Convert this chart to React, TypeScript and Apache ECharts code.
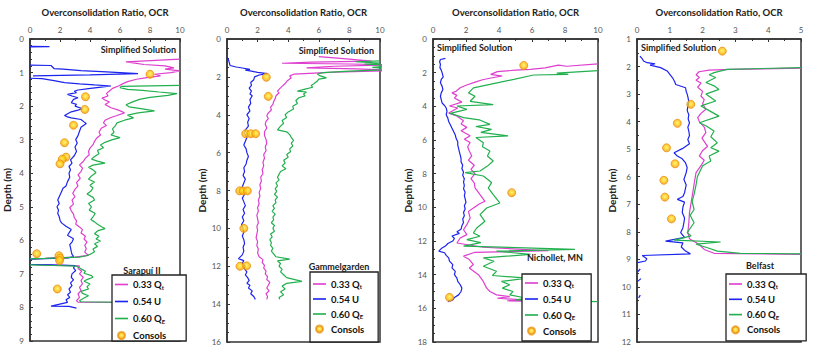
import React, { useEffect, useRef } from "react";
import * as echarts from "echarts";

// ---------- DATA: [OCR, depth (m)] ----------
const sarapuiU: any[] = [[0,0.22],[1.3,0.23],[0,0.245],'-',[0,0.78],[1.4,0.79],[1.6,0.88],[2.2,0.9],[3.4,0.94],[5.1,0.98],[7.2,1.03],[4.0,1.07],[0.2,1.1],'-',[0,1.17],[0.8,1.18],[1.6,1.24],[2.3,1.3],[3.3,1.34],[4.3,1.37],[5.4,1.4],[4.6,1.44],[3.9,1.48],[3.2,1.52],[2.95,1.56],[3.1,1.6],[2.5,1.65],[2.8,1.7],[3.2,1.75],[2.9,1.8],[2.75,1.9],[3.1,1.95],[3.0,2.0],[3.5,2.08],[3.2,2.12],[2.75,2.17],[2.3,2.28],[2.5,2.32],[2.75,2.35],[3.4,2.4],[3.6,2.47],[3.75,2.52],[3.4,2.63],[3.3,2.75],[3.2,2.88],[3.05,3.0],[3.15,3.1],[3.0,3.22],[3.1,3.35],[2.95,3.48],[2.7,3.6],[2.8,3.7],[2.6,3.8],[2.7,3.9],[2.6,4.0],[2.65,4.12],[2.5,4.25],[2.4,4.38],[2.2,4.45],[2.1,4.55],[2.0,4.65],[1.85,4.8],[1.95,4.9],[1.8,5.0],[1.9,5.1],[1.85,5.2],[1.95,5.3],[2.0,5.4],[2.1,5.48],[2.4,5.58],[2.75,5.68],[2.6,5.78],[2.5,5.85],[2.9,5.95],[2.8,6.05],[2.65,6.13],[2.7,6.22],[2.75,6.33],[2.8,6.42],[2.9,6.48],[2.6,6.52],[0.5,6.55],[0,6.56],'-',[0,6.72],[1.5,6.73],[3.0,6.75],[2.9,6.82],[3.05,6.9],[2.8,7.0],[2.75,7.1],[2.9,7.18],[2.7,7.27],[2.8,7.35],[2.6,7.45],[2.7,7.55],[2.5,7.62],[2.65,7.7],[2.4,7.77],[2.5,7.85],[1.4,7.96],[2.6,7.97],[3.1,8.02]];
const sarapuiQt: any[] = [[10,0.6],[6.4,0.68],[7.0,0.72],[7.6,0.76],[9.0,0.8],[9.6,0.86],[9.0,0.9],[10,0.95],[9.4,1.0],[8.3,1.05],[8.7,1.1],[7.8,1.15],[7.1,1.2],[6.5,1.27],[6.2,1.33],[5.9,1.4],[5.5,1.47],[5.3,1.55],[5.1,1.62],[5.2,1.7],[4.8,1.76],[5.0,1.82],[5.3,1.88],[5.0,1.95],[5.4,2.05],[5.9,2.12],[6.3,2.2],[5.8,2.28],[5.4,2.34],[5.0,2.42],[4.9,2.5],[5.1,2.58],[4.75,2.66],[4.6,2.78],[4.7,2.86],[4.45,2.95],[4.3,3.05],[4.2,3.15],[4.0,3.25],[3.9,3.35],[3.95,3.45],[3.7,3.55],[3.55,3.65],[3.3,3.75],[3.5,3.85],[3.4,3.95],[3.2,4.05],[3.35,4.15],[3.1,4.28],[3.2,4.38],[3.0,4.48],[2.85,4.6],[3.0,4.7],[2.8,4.8],[2.9,4.92],[2.65,5.02],[2.75,5.12],[2.9,5.22],[2.95,5.32],[3.1,5.42],[3.05,5.52],[3.3,5.6],[3.5,5.68],[3.4,5.78],[3.7,5.88],[3.6,5.96],[3.8,6.05],[3.65,6.15],[3.75,6.25],[3.65,6.35],[3.9,6.45],[3.0,6.5],[1.0,6.54],[0,6.55],'-',[0,6.72],[1.5,6.74],[3.3,6.76],[3.2,6.84],[3.45,6.92],[3.3,7.0],[3.55,7.1],[3.4,7.2],[3.5,7.3],[3.3,7.4],[3.4,7.5],[3.2,7.6],[3.3,7.7],[3.1,7.8],[3.2,7.84],[10,7.86]];
const sarapuiQE: any[] = [[10,1.38],[6.1,1.41],[6.0,1.45],[6.5,1.5],[7.5,1.53],[8.6,1.58],[9.8,1.63],[9.2,1.68],[8.0,1.74],[7.3,1.8],[6.8,1.88],[6.4,1.96],[6.6,2.02],[7.5,2.08],[8.3,2.14],[7.2,2.2],[6.5,2.27],[6.9,2.35],[6.3,2.42],[5.8,2.5],[5.7,2.58],[5.5,2.68],[5.6,2.78],[5.4,2.86],[6.0,2.94],[5.5,3.0],[5.0,3.08],[4.7,3.16],[4.9,3.24],[4.5,3.32],[4.6,3.42],[4.3,3.5],[4.1,3.58],[4.5,3.64],[5.0,3.7],[4.2,3.76],[3.9,3.82],[4.2,3.9],[4.4,3.98],[4.1,4.08],[3.9,4.18],[4.3,4.26],[4.0,4.36],[4.2,4.44],[4.05,4.54],[3.8,4.62],[4.2,4.72],[4.3,4.8],[3.9,4.9],[4.1,5.0],[3.95,5.1],[4.35,5.2],[4.2,5.3],[4.05,5.38],[4.3,5.45],[4.5,5.52],[4.8,5.6],[5.0,5.65],[4.5,5.72],[4.3,5.8],[4.6,5.88],[4.4,5.96],[4.7,6.02],[4.3,6.1],[4.5,6.18],[4.2,6.26],[4.3,6.34],[4.0,6.42],[3.75,6.46],[3.3,6.5],[1.0,6.54],[0,6.55],'-',[0,6.73],[1.5,6.75],[3.1,6.77],[3.4,6.85],[3.7,6.92],[3.6,6.98],[4.1,7.05],[4.2,7.1],[3.8,7.17],[3.6,7.22],[4.0,7.3],[3.8,7.38],[3.9,7.45],[3.4,7.52],[3.5,7.58],[3.9,7.65],[3.6,7.72],[3.3,7.8],[3.4,7.83],[10,7.87]];
const sarapuiConsols = [[8.0,1.05],[3.7,1.72],[3.65,2.1],[2.9,2.57],[2.3,3.09],[2.4,3.52],[2.15,3.58],[2.0,3.72],[0.45,6.4],[1.93,6.46],[2.0,6.53],[1.97,6.6],[1.82,7.45]];

const gammelU = [[0,0.95],[0.1,1.1],[0.15,1.25],[0.2,1.4],[0.6,1.48],[1.0,1.53],[1.5,1.6],[1.2,1.64],[1.6,1.7],[2.0,1.76],[2.65,1.83],[2.1,1.9],[1.8,2.0],[1.75,2.15],[1.55,2.3],[1.6,2.45],[1.45,2.6],[1.6,2.75],[1.5,2.9],[1.65,3.0],[1.5,3.2],[1.55,3.4],[1.4,3.6],[1.5,3.8],[1.3,4.0],[1.45,4.2],[1.35,4.4],[1.4,4.6],[1.2,4.8],[1.15,5.0],[1.3,5.2],[1.2,5.4],[1.1,5.6],[1.25,5.8],[1.3,6.0],[1.4,6.2],[1.3,6.4],[1.25,6.6],[1.1,6.8],[1.15,7.0],[1.05,7.2],[1.2,7.4],[1.1,7.6],[1.0,7.8],[1.1,8.0],[1.15,8.2],[1.0,8.4],[1.1,8.6],[1.2,8.8],[1.05,9.0],[1.15,9.2],[1.0,9.4],[1.1,9.6],[0.95,9.8],[1.05,10.0],[1.1,10.2],[1.0,10.4],[1.1,10.6],[1.15,10.8],[1.05,11.0],[1.1,11.2],[1.0,11.4],[0.75,11.6],[1.1,11.7],[1.0,11.85],[1.2,12.0],[1.1,12.1],[1.3,12.3],[1.2,12.45],[1.35,12.6],[1.45,12.75],[1.3,12.9],[1.5,13.0],[1.4,13.15],[1.65,13.3],[1.55,13.45],[1.75,13.6],[1.85,13.75]];
const gammelQt = [[6.0,0.93],[7.8,1.05],[9.45,1.17],[5.5,1.22],[3.6,1.28],[8,1.32],[11,1.36],[7,1.44],[5.2,1.52],[8.5,1.58],[11,1.66],[7,1.75],[4.4,1.85],[4.1,1.95],[4.2,2.05],[3.95,2.2],[3.8,2.35],[3.6,2.5],[3.45,2.62],[3.3,2.75],[3.4,2.85],[3.2,3.0],[3.15,3.15],[3.05,3.3],[3.0,3.45],[2.85,3.6],[2.9,3.75],[2.7,3.9],[2.6,4.05],[2.7,4.2],[2.55,4.35],[2.5,4.5],[2.6,4.7],[2.45,4.9],[2.45,5.1],[2.55,5.3],[2.6,5.5],[2.5,5.7],[2.55,5.9],[2.4,6.1],[2.45,6.3],[2.35,6.5],[2.4,6.7],[2.3,6.9],[2.35,7.1],[2.2,7.3],[2.25,7.5],[2.15,7.7],[2.2,7.9],[2.1,8.1],[2.15,8.3],[2.05,8.5],[2.1,8.7],[2.0,8.9],[2.05,9.1],[1.95,9.3],[2.0,9.5],[2.05,9.7],[1.95,9.9],[2.0,10.1],[1.95,10.3],[1.9,10.5],[2.0,10.7],[1.95,10.9],[2.05,11.1],[2.0,11.3],[2.1,11.5],[2.35,11.65],[2.3,11.8],[2.45,11.95],[2.4,12.1],[2.55,12.25],[2.5,12.4],[2.65,12.55],[2.6,12.7],[2.8,12.85],[2.7,13.0],[2.6,13.15],[2.75,13.3],[2.55,13.45],[2.65,13.6],[2.6,13.75]];
const gammelQE = [[10,1.15],[8.4,1.2],[10,1.27],[9.0,1.33],[11,1.4],[9.5,1.5],[11,1.6],[8.0,1.7],[6.3,1.78],[5.9,1.85],[6.1,1.95],[6.5,2.05],[6.0,2.12],[5.9,2.22],[5.7,2.35],[5.5,2.45],[5.6,2.55],[5.1,2.65],[4.6,2.75],[5.2,2.8],[5.0,2.9],[5.1,3.0],[4.7,3.1],[4.5,3.25],[4.6,3.4],[4.3,3.55],[4.35,3.7],[4.0,3.85],[3.8,4.0],[3.9,4.15],[3.6,4.3],[3.7,4.45],[3.5,4.6],[3.3,4.8],[3.9,4.9],[4.1,5.05],[4.2,5.2],[4.35,5.35],[4.2,5.5],[4.3,5.65],[4.1,5.8],[4.15,5.95],[3.9,6.1],[4.0,6.25],[3.7,6.4],[3.8,6.55],[3.6,6.7],[3.85,6.85],[3.5,7.0],[3.4,7.15],[3.3,7.3],[3.4,7.45],[3.2,7.6],[3.3,7.75],[3.15,7.9],[3.25,8.05],[3.1,8.2],[3.3,8.35],[3.15,8.5],[3.2,8.65],[3.0,8.8],[3.1,8.95],[2.95,9.1],[3.15,9.25],[3.0,9.4],[3.05,9.55],[2.9,9.7],[3.1,9.85],[3.0,10.0],[3.1,10.15],[2.85,10.3],[2.95,10.45],[2.8,10.6],[2.9,10.75],[2.85,10.9],[3.0,11.05],[2.9,11.2],[3.05,11.35],[3.2,11.5],[4.1,11.62],[3.3,11.72],[3.5,11.85],[3.4,12.0],[3.6,12.15],[3.5,12.3],[3.7,12.45],[3.9,12.6],[4.9,12.8],[3.9,12.9],[3.6,13.05],[3.8,13.2],[3.5,13.35],[3.7,13.5],[3.4,13.65],[3.45,13.75]];
const gammelConsols = [[2.57,2.02],[2.7,3.03],[1.22,5.0],[1.55,5.0],[1.87,5.0],[0.83,8.02],[1.05,8.02],[1.33,8.02],[1.1,10.0],[0.85,12.0],[1.28,11.98]];

const nichU = [[0.75,1.15],[0.45,1.22],[0.4,1.35],[0.45,1.5],[0.42,1.7],[0.5,1.85],[0.55,2.0],[0.62,2.25],[0.5,2.4],[0.45,2.6],[0.55,2.8],[0.6,3.0],[0.5,3.2],[0.45,3.4],[0.5,3.6],[0.55,3.8],[0.7,3.95],[0.8,4.1],[0.85,4.3],[0.8,4.5],[0.9,4.7],[0.95,4.9],[1.05,5.1],[1.15,5.3],[1.25,5.5],[1.35,5.7],[1.4,5.9],[1.5,6.1],[1.5,6.3],[1.55,6.5],[1.6,6.7],[1.65,6.9],[1.7,7.1],[1.7,7.3],[1.8,7.5],[1.75,7.7],[1.85,7.9],[1.8,8.1],[1.9,8.3],[1.85,8.5],[1.9,8.7],[1.85,8.9],[1.95,9.1],[1.9,9.3],[1.95,9.5],[2.0,9.7],[1.9,9.9],[1.95,10.1],[1.85,10.3],[1.9,10.5],[1.8,10.7],[1.85,10.9],[1.75,11.1],[1.7,11.3],[1.45,11.45],[1.6,11.55],[1.15,11.7],[1.3,11.85],[1.2,12.0],[0.9,12.15],[0.75,12.3],[0.5,12.45],[0.35,12.6],[0.7,12.7],[0.8,12.85],[0.95,13.0],[1.0,13.2],[1.2,13.4],[1.15,13.6],[1.35,13.8],[1.3,14.0],[1.45,14.2],[1.5,14.4],[1.65,14.6],[1.75,14.8],[1.7,15.0],[1.55,15.2],[1.3,15.35],[1.2,15.5],[0.9,15.6]];
const nichQt = [[10,1.48],[8.1,1.62],[7.6,1.55],[6.8,1.72],[5.9,1.8],[5.0,1.85],[3.9,1.94],[3.5,2.1],[4.2,2.2],[3.6,2.3],[3.0,2.42],[2.6,2.55],[2.0,2.75],[1.65,2.9],[1.4,3.1],[1.15,3.2],[1.45,3.35],[1.3,3.5],[1.75,3.75],[1.0,3.98],[1.5,4.1],[0.95,4.4],[1.4,4.55],[1.85,4.85],[1.7,5.05],[2.05,5.25],[1.7,5.45],[2.25,5.75],[1.9,5.95],[2.25,6.15],[2.1,6.4],[2.2,6.65],[2.35,6.95],[2.15,7.2],[2.5,7.5],[2.3,7.74],[2.55,8.0],[2.3,8.3],[2.5,8.55],[2.55,8.85],[2.85,9.25],[3.15,9.64],[2.8,9.8],[2.45,10.04],[2.15,10.24],[2.25,10.63],[2.05,11.03],[1.85,11.33],[2.05,11.62],[1.65,11.82],[1.45,12.12],[3.05,12.37],[7.0,12.58],[2.5,12.68],[1.85,12.9],[2.2,13.1],[2.45,13.4],[2.2,13.6],[2.75,14.0],[3.05,14.4],[3.25,14.8],[3.45,15.0],[3.85,15.2],[4.65,15.3],[3.9,15.4],[5.5,15.5],[4.5,15.55],[5.5,15.58]];
const nichQE = [[10,1.88],[7.5,2.03],[8.2,2.1],[6.1,2.14],[4.9,2.4],[3.45,2.7],[2.45,2.9],[2.15,3.2],[2.55,3.4],[2.25,3.7],[3.65,3.9],[1.45,3.98],[2.05,4.18],[1.05,4.42],[1.85,4.67],[2.8,4.8],[3.45,5.07],[2.6,5.2],[3.55,5.37],[2.9,5.55],[4.55,5.76],[2.6,5.85],[3.05,6.16],[3.0,6.4],[3.45,6.65],[3.3,6.95],[3.65,7.25],[3.3,7.55],[2.85,7.84],[1.95,7.94],[3.05,8.14],[3.55,8.53],[3.35,8.85],[3.65,9.25],[4.05,9.74],[3.25,10.04],[2.85,10.43],[3.15,10.83],[2.65,11.23],[2.45,11.52],[2.85,11.72],[2.05,11.92],[2.9,12.1],[1.85,12.3],[8.6,12.5],[3.85,12.6],[5.9,12.8],[3.05,13.0],[3.7,13.2],[3.05,13.5],[3.85,13.8],[3.6,14.05],[5.7,14.2],[4.15,14.4],[4.65,14.6],[4.2,14.8],[4.85,15.0],[4.65,15.2],[5.7,15.4],[5.0,15.5],[10,15.6]];
const nichConsols = [[5.5,1.57],[4.77,9.13],[1.0,15.35]];

const belfastU: any[] = [[0.09,1.62],[0.15,1.7],[0.2,1.8],[0.31,1.86],[0.55,1.9],[0.4,1.95],[0.72,2.04],[0.92,2.16],[1.0,2.28],[1.08,2.4],[1.15,2.55],[1.18,2.65],[1.48,2.77],[1.5,2.9],[1.53,3.0],[1.56,3.15],[1.58,3.3],[1.55,3.45],[1.53,3.6],[1.58,3.75],[1.56,3.9],[1.6,4.05],[1.55,4.2],[1.58,4.35],[1.6,4.5],[1.55,4.65],[1.6,4.8],[1.38,4.98],[1.13,5.13],[1.23,5.25],[1.38,5.35],[1.48,5.5],[1.53,5.67],[1.5,5.85],[1.43,6.1],[1.5,6.3],[1.45,6.58],[1.4,6.72],[1.23,6.82],[1.45,6.92],[1.4,7.1],[1.38,7.3],[1.45,7.5],[1.43,7.67],[1.4,7.85],[1.33,8.03],[1.45,8.2],[0.87,8.34],[1.4,8.4],[1.35,8.55],[1.48,8.7],[1.63,8.8],[0.16,8.86],[0.3,8.98],[0.26,9.06],[0.02,9.12],'-',[0.1,9.35],[0.02,9.45],'-',[0.12,9.7],[0.02,9.8],'-',[0.1,10.3],[0.05,10.4]];
const belfastQt = [[5,2.06],[2.86,2.1],[2.2,2.13],[1.89,2.19],[1.8,2.3],[1.9,2.4],[1.8,2.5],[1.95,2.6],[1.85,2.75],[2.0,2.9],[1.95,3.07],[2.05,3.2],[2.0,3.35],[2.1,3.55],[1.95,3.7],[1.85,3.85],[1.9,4.0],[2.05,4.2],[2.1,4.4],[1.98,4.6],[2.15,4.9],[2.0,5.05],[1.9,5.25],[2.05,5.4],[1.95,5.6],[1.8,5.85],[1.75,6.2],[1.7,6.58],[1.65,6.94],[1.6,7.3],[1.58,7.67],[1.55,8.03],[1.6,8.25],[1.9,8.46],[2.05,8.64],[2.35,8.78],[5,8.82]];
const belfastQE = [[5,2.04],[2.75,2.1],[2.35,2.22],[2.2,2.3],[2.4,2.4],[2.1,2.58],[2.35,2.7],[2.5,2.83],[2.1,3.0],[2.4,3.25],[1.95,3.43],[2.2,3.6],[2.5,3.8],[1.9,4.04],[2.1,4.15],[2.35,4.34],[2.25,4.55],[2.45,4.77],[2.25,4.95],[2.5,5.07],[2.2,5.25],[2.25,5.43],[2.0,5.6],[1.84,6.0],[1.8,6.3],[1.74,6.64],[1.68,6.9],[1.74,7.19],[1.62,7.4],[1.74,7.67],[1.53,8.03],[1.65,8.15],[1.13,8.3],[2.55,8.37],[1.8,8.45],[2.15,8.58],[2.45,8.7],[3.15,8.78],[5,8.8]];
const belfastConsols = [[2.6,1.44],[1.64,3.37],[1.23,4.06],[0.9,4.95],[1.16,5.53],[0.82,6.13],[0.85,6.74],[1.05,7.53]];

const SITES = ["Sarapuí II", "Gammelgarden", "Nichollet, MN", "Belfast"];
const SERIES_NAMES = ["0.33 Qt", "0.54 U", "0.60 QE", "Consols"];
const X_MAX = [10, 10, 10, 5];
const X_INTERVAL = [2, 2, 2, 1];
const Y_MIN = [0, 0, 0, 1];
const Y_MAX = [9, 16, 18, 12];
const Y_INTERVAL = [1, 2, 2, 1];

const PANEL_DATA = [
  [sarapuiQt, sarapuiU, sarapuiQE, sarapuiConsols],
  [gammelQt, gammelU, gammelQE, gammelConsols],
  [nichQt, nichU, nichQE, nichConsols],
  [belfastQt, belfastU, belfastQE, belfastConsols],
];

// ---------- LAYOUT ----------
const GRIDS = [
  { left: 30, top: 39, width: 150, height: 302 },
  { left: 227, top: 39, width: 153, height: 303 },
  { left: 433, top: 39, width: 165, height: 303 },
  { left: 637, top: 39, width: 164, height: 303 },
];
const LEGENDS = [
  { left: 112, top: 275, padding: [4, 20, 0, 3], itemGap: 6 },
  { left: 310, top: 272, padding: [6.5, 14, 7.5, 3], itemGap: 4 },
  { left: 522, top: 274, padding: [3.5, 15, 4.5, 3], itemGap: 5 },
  { left: 726, top: 274, padding: [4.5, 26, 5.5, 3], itemGap: 4.3 },
];
const SIMPLIFIED = [
  { x: 176, y: 49, align: "right" },
  { x: 374, y: 50, align: "right" },
  { x: 437, y: 47, align: "left" },
  { x: 641, y: 47, align: "left" },
];
const SITE_POS = [
  { x: 142, y: 270 },
  { x: 339, y: 266 },
  { x: 555, y: 257 },
  { x: 760, y: 265 },
];

const FONT = "Lato, 'Open Sans', sans-serif";
const COLORS = ["#de3fcf", "#1c24ee", "#22b04e"];
const LINE_ICON = "path://M0,0H40V5H0Z";

export default function App() {
  const ref = useRef<HTMLDivElement>(null);
  useEffect(() => {
    if (!ref.current) return;
    const chart = echarts.init(ref.current, undefined, { renderer: "svg" });
    const consolColor = new echarts.graphic.RadialGradient(0.5, 0.45, 0.6, [
      { offset: 0, color: "#fff34a" },
      { offset: 0.45, color: "#ffcc14" },
      { offset: 1, color: "#ef8a0c" },
    ]);
    const grid: any[] = [];
    const xAxis: any[] = [];
    const yAxis: any[] = [];
    const series: any[] = [];
    const legend: any[] = [];
    const graphic: any[] = [];
    for (let i = 0; i < 4; i++) {
      grid.push({ ...GRIDS[i], show: true, borderColor: "#333", borderWidth: 1.5, backgroundColor: "#fff" });
      xAxis.push({
        gridIndex: i, type: "value", position: "top", min: 0, max: X_MAX[i], interval: X_INTERVAL[i],
        name: "Overconsolidation Ratio, OCR", nameLocation: "middle", nameGap: 22,
        nameTextStyle: { fontFamily: FONT, fontWeight: "bold", fontSize: 9.5, color: "#222" },
        axisLine: { show: true, lineStyle: { color: "#333", width: 1.5 } },
        axisTick: { show: true, inside: true, length: 3, lineStyle: { color: "#333" } },
        minorTick: { show: true, splitNumber: 2, length: 2, lineStyle: { color: "#333" } },
        axisLabel: { fontFamily: FONT, fontSize: 8, color: "#555", margin: 5 },
        splitLine: { show: false },
      });
      yAxis.push({
        gridIndex: i, type: "value", inverse: true, min: Y_MIN[i], max: Y_MAX[i], interval: Y_INTERVAL[i],
        name: "Depth (m)", nameLocation: "middle", nameGap: i === 0 ? 18 : 20, nameRotate: 90,
        nameTextStyle: { fontFamily: FONT, fontWeight: "bold", fontSize: 10, color: "#222" },
        axisLine: { show: true, lineStyle: { color: "#333", width: 1.5 } },
        axisTick: { show: true, inside: true, length: 3, lineStyle: { color: "#333" } },
        minorTick: { show: true, splitNumber: i === 0 ? 5 : i === 3 ? 2 : 4, length: 2, lineStyle: { color: "#333" } },
        axisLabel: { fontFamily: FONT, fontSize: 8, color: "#555", margin: 6 },
        splitLine: { show: false },
      });
      const d = PANEL_DATA[i];
      for (let k = 0; k < 3; k++) {
        series.push({
          type: "line", name: SERIES_NAMES[k], xAxisIndex: i, yAxisIndex: i, data: d[k],
          symbol: "none", connectNulls: false, lineStyle: { color: COLORS[k], width: 1.2 },
          itemStyle: { color: COLORS[k] }, clip: true, z: 2,
        });
      }
      series.push({
        type: "scatter", name: "Consols", xAxisIndex: i, yAxisIndex: i, data: d[3],
        symbol: "circle", symbolSize: 8, z: 3,
        itemStyle: { color: consolColor, borderColor: "#ee9212", borderWidth: 1 },
      });
      legend.push({
        ...LEGENDS[i], orient: "vertical",
        data: [
          { name: SERIES_NAMES[0], icon: LINE_ICON, itemStyle: { color: COLORS[0], borderWidth: 0 } },
          { name: SERIES_NAMES[1], icon: LINE_ICON, itemStyle: { color: COLORS[1], borderWidth: 0 } },
          { name: SERIES_NAMES[2], icon: LINE_ICON, itemStyle: { color: COLORS[2], borderWidth: 0 } },
          { name: SERIES_NAMES[3], icon: "circle" },
        ],
        borderColor: "#222", borderWidth: 1.3, backgroundColor: "#fff", borderRadius: 0,
        itemWidth: 13, itemHeight: 7, selectedMode: false, symbolKeepAspect: true,
        textStyle: {
          fontFamily: FONT, fontWeight: "bold", fontSize: 9.5, color: "#111", lineHeight: 11,
          rich: {
            m: { fontFamily: FONT, fontWeight: "bold", fontSize: 9.5, color: "#111", lineHeight: 11 },
            s: { fontFamily: FONT, fontWeight: "bold", fontSize: 6, color: "#111", lineHeight: 6, verticalAlign: "bottom" },
          },
        },
        formatter: (name: string) => {
          if (name === "0.33 Qt") return "{m|0.33 Q}{s|t}";
          if (name === "0.60 QE") return "{m|0.60 Q}{s|E}";
          return "{m|" + name + "}";
        },
      });
      const sp = SIMPLIFIED[i];
      graphic.push({
        type: "text", x: sp.x, y: sp.y, z: 10,
        style: { text: "Simplified Solution", fill: "#222", font: `bold 9px ${FONT}`, align: sp.align, textAlign: sp.align, verticalAlign: "middle", textVerticalAlign: "middle" },
      });
      const st = SITE_POS[i];
      graphic.push({
        type: "text", x: st.x, y: st.y, z: 10,
        style: { text: SITES[i], fill: "#222", font: `bold 9px ${FONT}`, align: "center", textAlign: "center", verticalAlign: "middle", textVerticalAlign: "middle" },
      });
    }
    chart.setOption({ animation: false, backgroundColor: "#fff", grid, xAxis, yAxis, series, legend, graphic });
    return () => chart.dispose();
  }, []);
  return <div ref={ref} style={{ position: "absolute", left: 0, top: 0, width: 817, height: 357 }} />;
}
